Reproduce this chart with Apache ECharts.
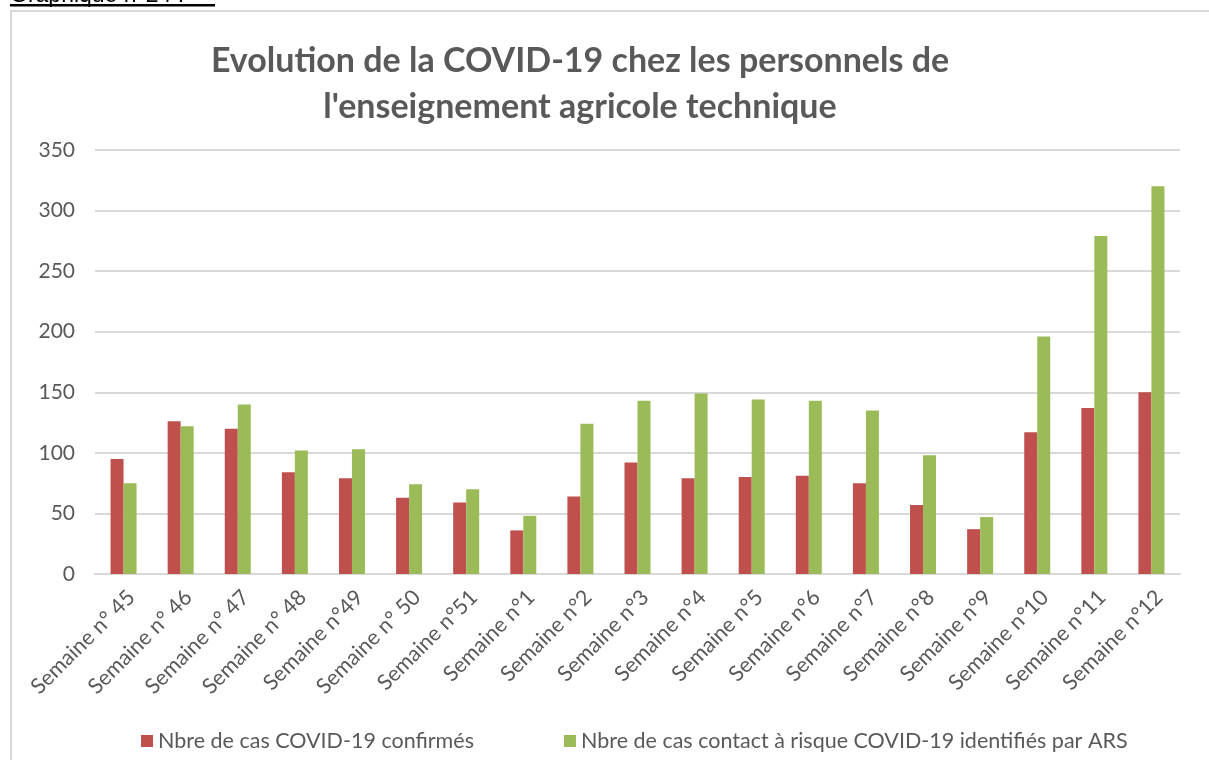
<!DOCTYPE html>
<html>
<head>
<meta charset="utf-8">
<script src="https://cdn.jsdelivr.net/npm/echarts@6/dist/echarts.min.js"></script>
<style>
  html, body { margin: 0; padding: 0; background: #fff; }
  #chart { width: 1209px; height: 760px; }
</style>
</head>
<body>
<div id="chart"></div>
<script>
// chart data
const semaines = [
  'Semaine n° 45', 'Semaine n° 46', 'Semaine n° 47', 'Semaine n° 48', 'Semaine n°49',
  'Semaine n° 50', 'Semaine n°51', 'Semaine n°1', 'Semaine n°2', 'Semaine n°3',
  'Semaine n°4', 'Semaine n°5', 'Semaine n°6', 'Semaine n°7', 'Semaine n°8',
  'Semaine n°9', 'Semaine n°10', 'Semaine n°11', 'Semaine n°12'
]
const casConfirmes = [95, 126, 120, 84, 79, 63, 59, 36, 64, 92, 79, 80, 81, 75, 57, 37, 117, 137, 150]
const casContact = [75, 122, 140, 102, 103, 74, 70, 48, 124, 143, 149, 144, 143, 135, 98, 47, 196, 279, 320]
const seriesNames = [
  'Nbre de cas COVID-19 confirmés',
  'Nbre de cas contact à risque COVID-19 identifiés par ARS'
]

const font = 'Lato, "Noto Sans", sans-serif'
const textColor = '#595959'

const chart = echarts.init(document.getElementById('chart'))
chart.setOption({
  animation: false,
  textStyle: { fontFamily: font },
  title: {
    text: "Evolution de la COVID-19 chez les personnels de\nl'enseignement agricole technique",
    left: 575,
    textAlign: 'center',
    top: 33,
    textStyle: {
      fontSize: 34,
      fontWeight: 'bold',
      color: textColor,
      lineHeight: 46,
      fontFamily: font
    }
  },
  graphic: [
    {
      type: 'rect',
      shape: { x: 11, y: 11, width: 1300, height: 800 },
      style: { fill: 'none', stroke: '#d9d9d9', lineWidth: 2 },
      silent: true
    },
    {
      type: 'text',
      left: 10,
      top: -16,
      style: { text: 'Graphique n°24 :', fontSize: 23, fill: '#000', fontFamily: 'Liberation Sans, sans-serif' }
    },
    {
      type: 'rect',
      shape: { x: 10, y: 4, width: 205, height: 2.5 },
      style: { fill: '#000' },
      silent: true
    }
  ],
  legend: {
    data: seriesNames,
    left: 136,
    top: 725,
    itemWidth: 12,
    itemHeight: 12,
    itemGap: 90,
    icon: 'rect',
    textStyle: { fontSize: 21.5, color: textColor, fontFamily: font }
  },
  grid: {
    left: 95,
    right: 29,
    top: 150,
    bottom: 186
  },
  xAxis: {
    type: 'category',
    data: semaines,
    axisTick: { show: false },
    axisLine: { lineStyle: { color: '#d9d9d9', width: 2 } },
    axisLabel: {
      rotate: 45,
      interval: 0,
      fontSize: 21.5,
      color: textColor,
      margin: 12,
      verticalAlign: 'top'
    }
  },
  yAxis: {
    type: 'value',
    min: 0,
    max: 350,
    interval: 50,
    axisLine: { show: false },
    axisTick: { show: false },
    axisLabel: { fontSize: 21, color: textColor, margin: 20 },
    splitLine: { lineStyle: { color: '#d9d9d9', width: 2 } }
  },
  series: [
    {
      name: seriesNames[0],
      type: 'bar',
      data: casConfirmes,
      barWidth: 13,
      barGap: '0%',
      itemStyle: { color: '#C0504D' }
    },
    {
      name: seriesNames[1],
      type: 'bar',
      data: casContact,
      barWidth: 13,
      itemStyle: { color: '#9BBB59' }
    }
  ]
})
</script>
</body>
</html>
